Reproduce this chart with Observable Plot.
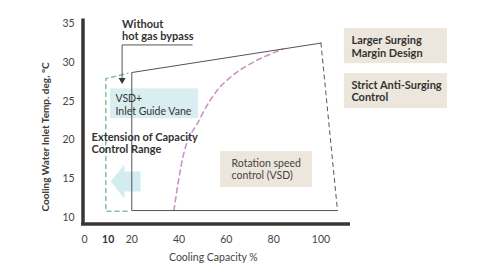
<!DOCTYPE html>
<html>
<head>
<meta charset="utf-8">
<script src="https://cdn.jsdelivr.net/npm/d3@7"></script>
<script src="https://cdn.jsdelivr.net/npm/@observablehq/plot@0.6"></script>
<style>
  html, body { margin: 0; padding: 0; background: #fff; }
  #chart svg { font-family: Lato, "Open Sans", sans-serif; }
</style>
</head>
<body>
<div id="chart"></div>
<script>
// ---- data ----
const xTicks = [0, 10, 20, 40, 60, 80, 100];
const boldXTicks = [10];
const yTicks = [10, 15, 20, 25, 30, 35];

// operating envelope (solid) : capacity %, cooling water temp
const envelopeX = [107, 20, 20, 100];
const envelopeY = [10.9, 10.9, 28.7, 32.5];
// maximum capacity limit (dashed grey)
const maxCapX = [100, 107];
const maxCapY = [32.5, 10.9];
// surge line with rotation speed control (dashed pink)
const surgeX = [37.8, 39.9, 42.0, 44.3, 47.5, 52.5, 57.5, 62.5, 67.2, 74.4, 84.0];
const surgeY = [10.9, 15.0, 18.3, 20.4, 22.0, 24.8, 26.9, 28.3, 29.3, 30.5, 31.75];
// extension of capacity control range (dashed green)
const extX = [18.0, 9.0, 9.0, 18.3];
const extY = [10.8, 10.8, 27.9, 28.6];
// block arrow (extension direction)
const arrowX = [23.7, 16.9, 16.9, 11.0, 16.9, 16.9, 23.7];
const arrowY = [15.95, 15.95, 16.8, 14.65, 12.45, 13.35, 13.35];
// "without hot gas bypass" leader
const leaderX = [45.5, 15.9, 15.9];
const leaderY = [32.26, 32.26, 28.0];

const pts = (xs, ys) => xs.map((x, i) => ({x, y: ys[i]}));

const ink = "#3a3634";
const fs = 10.5;   // regular text
const fb = 11;     // bold annotations
const lh = 1.1;

const chart = Plot.plot({
  width: 492,
  height: 278,
  marginLeft: 84,
  marginRight: 142,
  marginTop: 17,
  marginBottom: 54,
  style: {fontFamily: "Lato, 'Open Sans', sans-serif", background: "#fff"},
  x: {domain: [0, 112.5], axis: null},
  y: {domain: [9.1, 35.8], axis: null},
  marks: [
    // white mask behind the "Extension" text
    Plot.rect([0], {x1: 2.6, x2: 47, y1: 18.15, y2: 21.1, fill: "#fff"}),
    // annotation boxes
    Plot.rect([0], {x1: 11.0, x2: 48.2, y1: 22.76, y2: 26.6, fill: "#d9eef1"}),
    Plot.rect([0], {x1: 57.5, x2: 96.4, y1: 13.87, y2: 18.5, fill: "#ece6dc"}),
    Plot.rect([0], {x1: 109.9, x2: 153.5, y1: 29.85, y2: 34.36, fill: "#ece6dc"}),
    Plot.rect([0], {x1: 109.9, x2: 153.5, y1: 24.05, y2: 28.56, fill: "#ece6dc"}),
    // block arrow
    Plot.line(pts(arrowX, arrowY), {x: "x", y: "y", fill: "#d3ecf0", stroke: "none"}),
    // extension (green dashed)
    Plot.line(pts(extX, extY), {x: "x", y: "y", stroke: "#86c4a3", strokeWidth: 1.6, strokeDasharray: "4,4"}),
    // surge line (pink dashed)
    Plot.line(pts(surgeX, surgeY), {x: "x", y: "y", curve: "catmull-rom", stroke: "#c793c4", strokeWidth: 1.6, strokeDasharray: "5,4"}),
    // envelope
    Plot.line(pts(envelopeX, envelopeY), {x: "x", y: "y", stroke: "#555", strokeWidth: 1}),
    Plot.line(pts(maxCapX, maxCapY), {x: "x", y: "y", stroke: "#555", strokeWidth: 1, strokeDasharray: "4,4"}),
    // leader line with arrowhead
    Plot.line(pts(leaderX, leaderY), {x: "x", y: "y", stroke: "#555", strokeWidth: 1}),
    Plot.dot([0], {x: 15.9, y: 27.75, symbol: "triangle", r: 2.6, rotate: 180, fill: ink, stroke: "none"}),
    // axes lines
    Plot.ruleX([0], {y1: 9.1, y2: 35.8, stroke: ink, strokeWidth: 3.5, dx: -1.5, insetBottom: -1.5}),
    Plot.ruleY([9.1], {x1: 0, x2: 112.5, stroke: ink, strokeWidth: 3.5, dy: -0.5, insetLeft: -3}),
    // tick labels
    Plot.text(xTicks.filter(d => !boldXTicks.includes(d)), {x: d => d, y: 7.15, text: d => String(d), fontSize: fs, fill: "#444"}),
    Plot.text(boldXTicks, {x: d => d, y: 7.15, text: d => String(d), fontSize: fs, fontWeight: "bold", fill: "#333"}),
    Plot.text(yTicks, {x: -4.2, y: d => d, text: d => String(d), textAnchor: "end", fontSize: fs, fill: "#444"}),
    // axis titles
    Plot.text(["Cooling Capacity %"], {x: 54.5, y: 4.85, text: d => d, fontSize: fs, fill: "#444"}),
    Plot.text(["Cooling Water Inlet Temp. deg, °C"], {x: -16.5, y: 20.4, text: d => d, rotate: -90, fontSize: 10, fontWeight: "bold", fill: "#3a3a3a"}),
    // annotations
    Plot.text(["Without\nhot gas bypass"], {x: 15.9, y: 34.23, text: d => d, textAnchor: "start", lineHeight: lh, fontSize: fb, fontWeight: "bold", fill: "#333"}),
    Plot.text(["VSD+\nInlet Guide Vane"], {x: 13.1, y: 24.56, text: d => d, textAnchor: "start", lineHeight: 1.15, fontSize: fs, fill: "#333"}),
    Plot.text(["Extension of Capacity\nControl Range"], {x: 3.0, y: 19.54, text: d => d, textAnchor: "start", lineHeight: lh, fontSize: fb, fontWeight: "bold", fill: "#333"}),
    Plot.text(["Rotation speed\ncontrol (VSD)"], {x: 62.2, y: 16.25, text: d => d, textAnchor: "start", lineHeight: 1.2, fontSize: fs, fill: "#444"}),
    Plot.text(["Larger Surging\nMargin Design"], {x: 112.9, y: 32.04, text: d => d, textAnchor: "start", lineHeight: lh, fontSize: fb, fontWeight: "bold", fill: "#333"}),
    Plot.text(["Strict Anti-Surging\nControl"], {x: 112.9, y: 26.3, text: d => d, textAnchor: "start", lineHeight: lh, fontSize: fb, fontWeight: "bold", fill: "#333"})
  ]
});
document.getElementById("chart").appendChild(chart);
</script>
</body>
</html>
